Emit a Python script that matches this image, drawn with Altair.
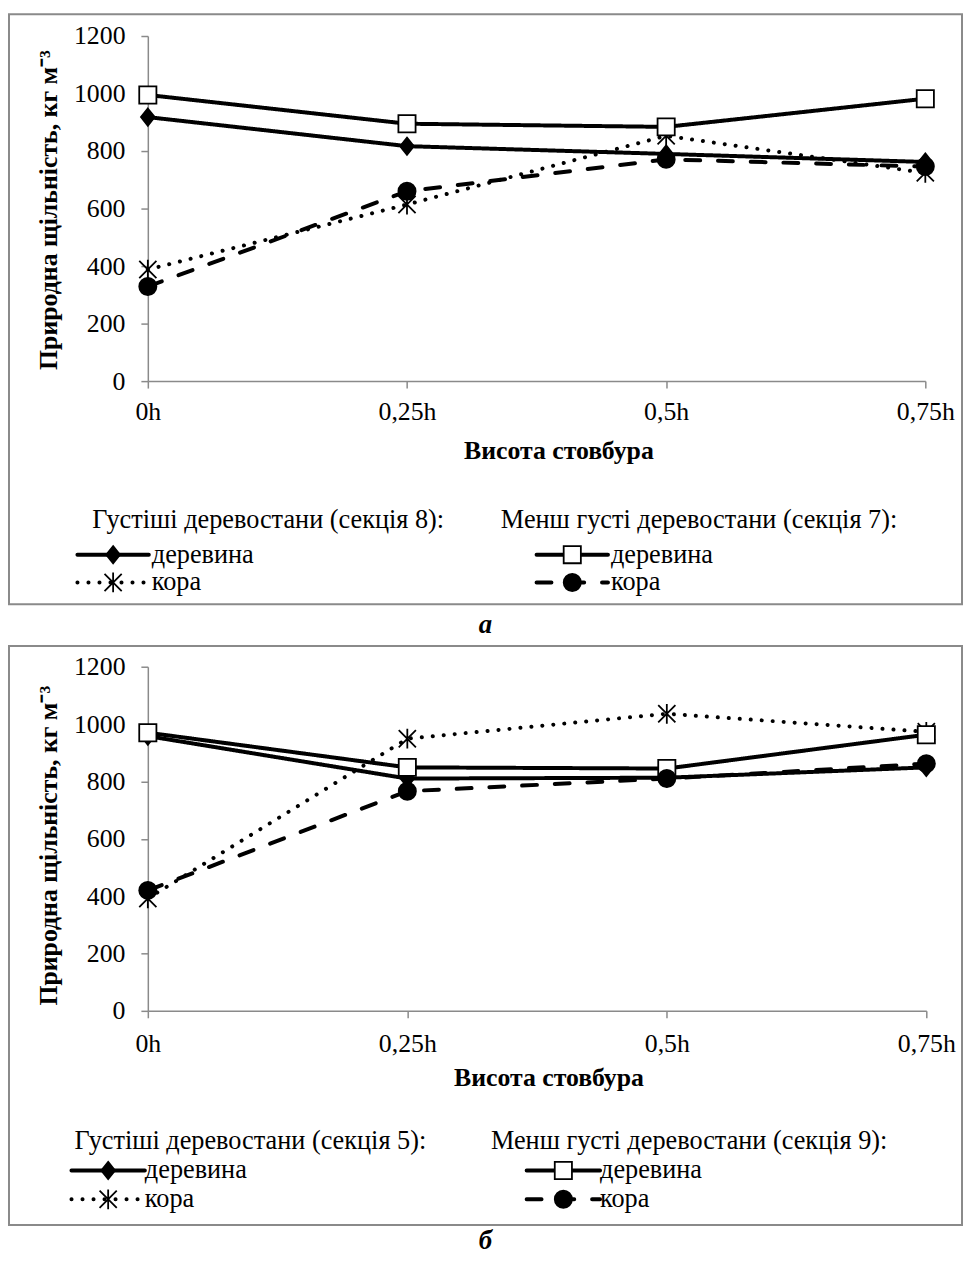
import altair as alt
import pandas as pd

FONT = "Liberation Serif"

# ---------------- data ----------------
heights = ["0h", "0,25h", "0,5h", "0,75h"]
series = ["dense_wood", "dense_bark", "sparse_wood", "sparse_bark"]
series_labels = ["деревина", "кора", "деревина", "кора"]
legend_cols = ["c1", "c1", "c2", "c2"]
legend_rows = ["r1", "r2", "r1", "r2"]

# panel a
a_dense_wood = [918, 817, 790, 762]
a_dense_bark = [388, 614, 853, 724]
a_sparse_wood = [995, 895, 884, 982]
a_sparse_bark = [329, 660, 771, 746]
a_headers = ["Густіші деревостани (секція 8):", "Менш густі деревостани (секція 7):"]
a_label = "а"

# panel b
b_dense_wood = [958, 810, 813, 849]
b_dense_bark = [392, 949, 1036, 973]
b_sparse_wood = [970, 849, 845, 963]
b_sparse_bark = [420, 766, 810, 862]
b_headers = ["Густіші деревостани (секція 5):", "Менш густі деревостани (секція 9):"]
b_label = "б"

y_title = "Природна щільність, кг м⁻³"
x_title = "Висота стовбура"
y_ticks = [0, 200, 400, 600, 800, 1000, 1200]

# ---------------- styles ----------------
DIAMOND = "M0,-1L0.8,0L0,1L-0.8,0Z"
SQUARE = "M-1,-1L1,-1L1,1L-1,1Z"
ASTER = "M-1,-1L1,1M-1,1L1,-1M0,-1.15L0,1.15"
LINE_SYM = "M-1,0L1,0"

dash_scale = alt.Scale(domain=series, range=[[1, 0], [0.1, 11], [1, 0], [15, 18]])
shape_scale = alt.Scale(domain=series, range=[DIAMOND, ASTER, SQUARE, "circle"])
fill_scale = alt.Scale(domain=series, range=["black", "transparent", "white", "black"])
GRAY = "#8a8a8a"
TXT = 26.5


def panel(vals, headers, g):
    rows = []
    for s, v in zip(series, vals):
        for h, y in zip(heights, v):
            rows.append({"height": h, "series": s, "value": y})
    df = pd.DataFrame(rows)

    xs = alt.Scale(type="point", domain=heights, range=g["x_range"], padding=0)
    ys = alt.Scale(domain=[0, 1200], range=g["y_range"], nice=False)

    x_axis = alt.Axis(
        title=x_title, offset=g["x_off"], labelAngle=0,
        labelPadding=g["x_lpad"], titleX=g["xt_x"], titleY=g["xt_y"],
        titleBaseline="middle", titleAlign="center",
    )
    y_axis = alt.Axis(
        title=y_title, offset=g["y_off"], values=y_ticks, grid=False, format="d",
        labelPadding=16, titleX=g["yt_x"], titleY=g["yt_y"],
        titleBaseline="middle", titleAlign="center", titleAngle=270,
    )

    lines = alt.Chart(df).mark_line(
        color="black", strokeWidth=4, strokeCap="round", strokeJoin="round"
    ).encode(
        x=alt.X("height:O", scale=xs, axis=x_axis, sort=heights),
        y=alt.Y("value:Q", scale=ys, axis=y_axis),
        strokeDash=alt.StrokeDash("series:N", scale=dash_scale, legend=None),
    )
    points = alt.Chart(df).mark_point(
        filled=True, stroke="black", strokeWidth=1.8, opacity=1, size=300
    ).encode(
        x=alt.X("height:O", scale=xs, axis=None, sort=heights),
        y=alt.Y("value:Q", scale=ys, axis=None),
        shape=alt.Shape("series:N", scale=shape_scale, legend=None),
        fill=alt.Fill("series:N", scale=fill_scale, legend=None),
    )

    leg = pd.DataFrame({"series": series, "label": series_labels,
                        "col": legend_cols, "row": legend_rows})
    hdr = pd.DataFrame({"col": ["c1", "c2"], "row": ["h", "h"], "text": headers})

    lx = alt.X("col:O", scale=alt.Scale(type="point", domain=["c1", "c2"],
                                         range=g["leg_x"], padding=0), axis=None)
    ly = alt.Y("row:O", scale=alt.Scale(type="point", domain=["r1", "r2"],
                                         range=g["leg_y"], padding=0), axis=None)

    leg_sym = alt.Chart(leg).mark_point(
        shape=LINE_SYM, size=g["sym_len"] ** 2, filled=False, color="black",
        stroke="black", strokeWidth=4, strokeCap="round", opacity=1
    ).encode(
        x=lx, y=ly,
        strokeDash=alt.StrokeDash("series:N", scale=dash_scale, legend=None),
    )
    leg_mark = alt.Chart(leg).mark_point(
        filled=True, stroke="black", strokeWidth=1.8, opacity=1, size=300
    ).encode(
        x=lx, y=ly,
        shape=alt.Shape("series:N", scale=shape_scale, legend=None),
        fill=alt.Fill("series:N", scale=fill_scale, legend=None),
    )
    leg_text = alt.Chart(leg).mark_text(
        align="left", baseline="middle", dx=g["txt_dx"], font=FONT,
        fontSize=TXT, color="black"
    ).encode(x=lx, y=ly, text="label:N")

    hdr_text = alt.Chart(hdr).mark_text(
        align="left", baseline="middle", font=FONT, fontSize=TXT, color="black"
    ).encode(
        x=alt.X("col:O", scale=alt.Scale(type="point", domain=["c1", "c2"],
                                         range=g["hdr_x"], padding=0), axis=None),
        y=alt.Y("row:O", scale=alt.Scale(type="point", domain=["h"],
                                         range=[g["hdr_y"], g["hdr_y"]], padding=0),
                axis=None),
        text="text:N",
    )

    return alt.layer(lines, points, hdr_text, leg_sym, leg_mark, leg_text).resolve_scale(
        x="independent", y="independent"
    ).properties(
        width=g["W"], height=g["H"],
        view=alt.ViewBackground(stroke=GRAY, strokeWidth=2),
    )


def label_chart(txt, h, w):
    return alt.Chart(pd.DataFrame({"t": [txt]})).mark_text(
        font=FONT, fontSize=27, fontStyle="italic", fontWeight="bold", color="black"
    ).encode(text="t:N").properties(
        width=w, height=h, view=alt.ViewBackground(stroke="transparent")
    )


W = 961
ga = dict(W=W, H=595, x_range=[140, 924], y_range=[370, 22], x_off=370 - 595,
          y_off=-140, x_lpad=11, xt_x=554, xt_y=70, yt_x=-100, yt_y=197,
          leg_x=[105, 568], leg_y=[545, 573], hdr_x=[84, 496], hdr_y=510,
          sym_len=72, txt_dx=39)
gb = dict(W=W, H=584, x_range=[140, 925], y_range=[368, 21], x_off=368 - 584,
          y_off=-140, x_lpad=13, xt_x=544, xt_y=67, yt_x=-100, yt_y=201,
          leg_x=[100, 559], leg_y=[529, 558], hdr_x=[66, 486], hdr_y=499,
          sym_len=74, txt_dx=37)

pa = panel([a_dense_wood, a_dense_bark, a_sparse_wood, a_sparse_bark], a_headers, ga)
pb = panel([b_dense_wood, b_dense_bark, b_sparse_wood, b_sparse_bark], b_headers, gb)

chart = alt.vconcat(
    pa, label_chart(a_label, 38, W), pb, label_chart(b_label, 26, W), spacing=0
).properties(padding=0).configure(font=FONT).configure_view(
    stroke="transparent"
).configure_axis(
    labelFont=FONT, labelFontSize=26, labelColor="black",
    titleFont=FONT, titleFontSize=26, titleFontWeight="bold", titleColor="black",
    domainColor=GRAY, domainWidth=1.5, tickColor=GRAY, tickWidth=1.5, tickSize=7,
)

chart.save("out.html", embed_options={"renderer": "svg", "actions": False})
